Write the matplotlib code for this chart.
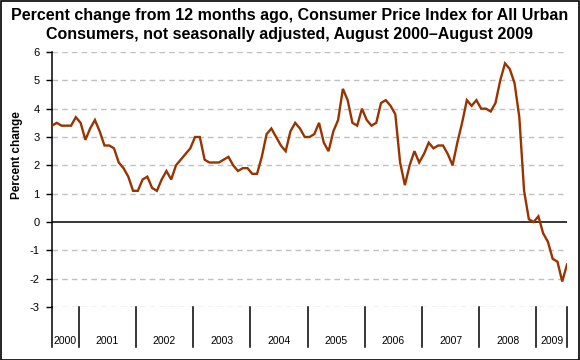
import matplotlib
matplotlib.use("Agg")
import matplotlib.pyplot as plt
from matplotlib.patches import Rectangle
import matplotlib.transforms as mtransforms

plt.rcParams['font.family'] = ['Liberation Sans', 'DejaVu Sans']

# Monthly 12-month percent change, Aug 2000 .. Aug 2009
cpi_change = [
    3.4, 3.5, 3.4, 3.4, 3.4,                                        # 2000 Aug-Dec
    3.7, 3.5, 2.9, 3.3, 3.6, 3.2, 2.7, 2.7, 2.6, 2.1, 1.9, 1.6,      # 2001
    1.1, 1.1, 1.5, 1.6, 1.2, 1.1, 1.5, 1.8, 1.5, 2.0, 2.2, 2.4,      # 2002
    2.6, 3.0, 3.0, 2.2, 2.1, 2.1, 2.1, 2.2, 2.3, 2.0, 1.8, 1.9,      # 2003
    1.9, 1.7, 1.7, 2.3, 3.1, 3.3, 3.0, 2.7, 2.5, 3.2, 3.5, 3.3,      # 2004
    3.0, 3.0, 3.1, 3.5, 2.8, 2.5, 3.2, 3.6, 4.7, 4.3, 3.5, 3.4,      # 2005
    4.0, 3.6, 3.4, 3.5, 4.2, 4.3, 4.1, 3.8, 2.1, 1.3, 2.0, 2.5,      # 2006
    2.1, 2.4, 2.8, 2.6, 2.7, 2.7, 2.4, 2.0, 2.8, 3.5, 4.3, 4.1,      # 2007
    4.3, 4.0, 4.0, 3.9, 4.2, 5.0, 5.6, 5.4, 4.9, 3.7, 1.1, 0.1,      # 2008
    0.0, 0.2, -0.4, -0.7, -1.3, -1.4, -2.1, -1.5,                    # 2009 Jan-Aug
]
years = ['2000', '2001', '2002', '2003', '2004', '2005', '2006', '2007', '2008', '2009']
months_in_year = [5, 12, 12, 12, 12, 12, 12, 12, 12, 8]
yticks = [-3, -2, -1, 0, 1, 2, 3, 4, 5, 6]

title = ("Percent change from 12 months ago, Consumer Price Index for All Urban\n"
         "Consumers, not seasonally adjusted, August 2000\u2013August 2009")

W, H = 580, 360
fig = plt.figure(figsize=(W / 100, H / 100), dpi=100)
fig.patch.set_facecolor('white')

left, right, top, bottom = 52, 567, 52, 307
ax = fig.add_axes([left / W, 1 - bottom / H, (right - left) / W, (bottom - top) / H])

x = list(range(len(cpi_change)))
ax.plot(x, cpi_change, color='#993300', lw=1.7, solid_joinstyle='miter', zorder=3)

n = len(cpi_change)
ax.set_xlim(0, n - 1)
ax.set_ylim(-3, 6)
ax.set_yticks(yticks)
ax.set_yticklabels([str(v) for v in yticks], fontsize=8)
ax.tick_params(axis='y', direction='out', length=4, width=1, pad=5)
ax.set_xticks([])

for v in yticks:
    if v != 0:
        ax.axhline(v, xmin=0, xmax=0.992, color='#c0c0c0', lw=1, ls=(0, (4, 3)), zorder=1)
ax.axhline(0, color='black', lw=1.1, zorder=2)

for s in ['top', 'right', 'bottom']:
    ax.spines[s].set_visible(False)
ax.spines['left'].set_linewidth(1.1)

fig.text(17 / W, 1 - 155 / H, 'Percent change', rotation=90, ha='center', va='center',
         fontsize=8.5, fontweight='bold')

# category box with year separators
trans = mtransforms.blended_transform_factory(ax.transData, ax.transAxes)
box_bottom = -(347 - bottom) / (bottom - top)
label_y = -(341 - bottom) / (bottom - top)
seps = [0.0]
start = 0
for m in months_in_year[:-1]:
    start += m
    seps.append(start + 0.6)
seps.append(n - 1)
for i, sx in enumerate(seps):
    ax.plot([sx, sx], [0, box_bottom], color='black', lw=1.1, transform=trans, clip_on=False)
for i, yr in enumerate(years):
    cx = (seps[i] + seps[i + 1]) / 2
    ax.text(cx, label_y, yr, transform=trans, ha='center', va='center', fontsize=7.5)

fig.text(0.5, 1 - 25 / H, title, ha='center', va='center', fontsize=11.5,
         fontweight='bold', linespacing=1.3)

fig.patches.append(Rectangle((0.5 / W, 0.5 / H), 1 - 1.5 / W, 1 - 1.5 / H,
                             transform=fig.transFigure, fill=False,
                             edgecolor='black', lw=1.2))

fig.savefig('out.png', dpi=100)
